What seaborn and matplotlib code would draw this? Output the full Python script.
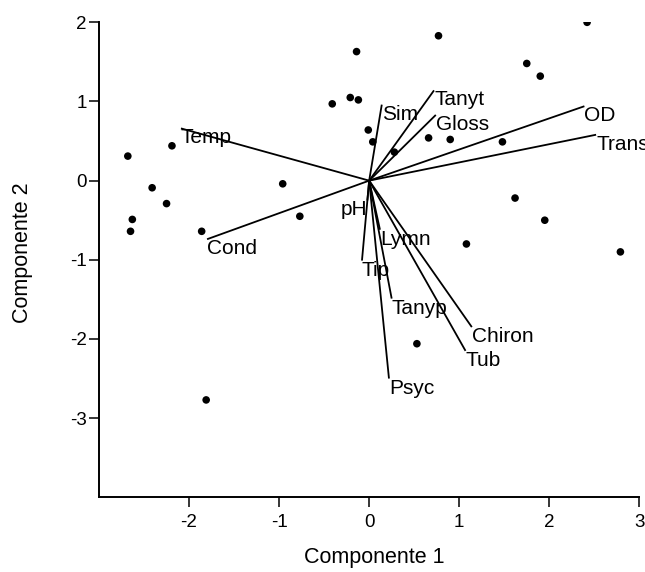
import numpy as np
import pandas as pd
import matplotlib
matplotlib.use("Agg")
import matplotlib.pyplot as plt
import seaborn as sns

# --- dados: escores das amostras (Componente 1, Componente 2) ---
score_x = [-2.68, -2.19, -2.41, -2.25, -2.63, -2.65, -1.86, -0.96, -0.77, -1.81,
           -0.41, -0.21, -0.12, -0.14, 0.77, 1.75, 1.90, 2.42, -0.01, 0.04,
           0.28, 0.66, 0.90, 1.48, 1.62, 1.95, 1.08, 2.79, 0.53]
score_y = [0.31, 0.44, -0.09, -0.29, -0.49, -0.64, -0.64, -0.04, -0.45, -2.77,
           0.97, 1.05, 1.02, 1.63, 1.83, 1.48, 1.32, 2.00, 0.64, 0.49,
           0.36, 0.54, 0.52, 0.49, -0.22, -0.50, -0.80, -0.90, -2.06]

# --- dados: cargas das variaveis (vetores) ---
var_names = ['Temp', 'Cond', 'Sim', 'Tanyt', 'Gloss', 'OD', 'Trans', 'pH',
             'Tip', 'Lymn', 'Tanyp', 'Chiron', 'Tub', 'Psyc']
load_x = [-2.09, -1.80, 0.14, 0.72, 0.74, 2.39, 2.52, -0.02,
          -0.08, 0.12, 0.25, 1.14, 1.07, 0.22]
load_y = [0.66, -0.74, 0.96, 1.14, 0.83, 0.94, 0.58, -0.25,
          -1.01, -0.62, -1.49, -1.85, -2.15, -2.50]

x_ticks = [-2, -1, 0, 1, 2, 3]
y_ticks = [-3, -2, -1, 0, 1, 2]

df_scores = pd.DataFrame({'c1': score_x, 'c2': score_y})
df_load = pd.DataFrame({'nome': var_names, 'c1': load_x, 'c2': load_y})

sns.set_style('ticks')
plt.rcParams['font.family'] = ['Liberation Sans', 'DejaVu Sans']
plt.rcParams['axes.unicode_minus'] = False

fig = plt.figure(figsize=(6.45, 5.72), dpi=100)
ax = fig.add_axes([0.1535, 0.1306, 0.8377, 0.8304])

# vetores a partir da origem
for _, row in df_load.iterrows():
    ax.plot([0, row['c1']], [0, row['c2']], color='black', lw=1.3,
            solid_capstyle='butt', zorder=2)
    ha = 'right' if row['nome'] == 'pH' else 'left'
    ax.text(row['c1'], row['c2'], row['nome'], ha=ha, va='top',
            fontsize=15, color='black', zorder=4)

sns.scatterplot(data=df_scores, x='c1', y='c2', ax=ax, color='black',
                s=30, edgecolor='none', zorder=3)

ax.set_xlim(-3, 3)
ax.set_ylim(-4, 2)
ax.set_xticks(x_ticks)
ax.set_yticks(y_ticks)
ax.tick_params(axis='both', direction='out', length=7, width=1.1,
               labelsize=13.5, color='black', labelcolor='black')
ax.tick_params(axis='x', pad=5)
ax.tick_params(axis='y', pad=2)

sns.despine(ax=ax)
for s in ['left', 'bottom']:
    ax.spines[s].set_linewidth(1.4)
    ax.spines[s].set_color('black')

ax.set_xlabel('Componente 1', fontsize=15.5, color='black')
ax.set_ylabel('Componente 2', fontsize=15.5, color='black')
ax.xaxis.set_label_coords(0.51, -0.105)
ax.yaxis.set_label_coords(-0.122, 0.515)

fig.savefig('out.png', dpi=100)
